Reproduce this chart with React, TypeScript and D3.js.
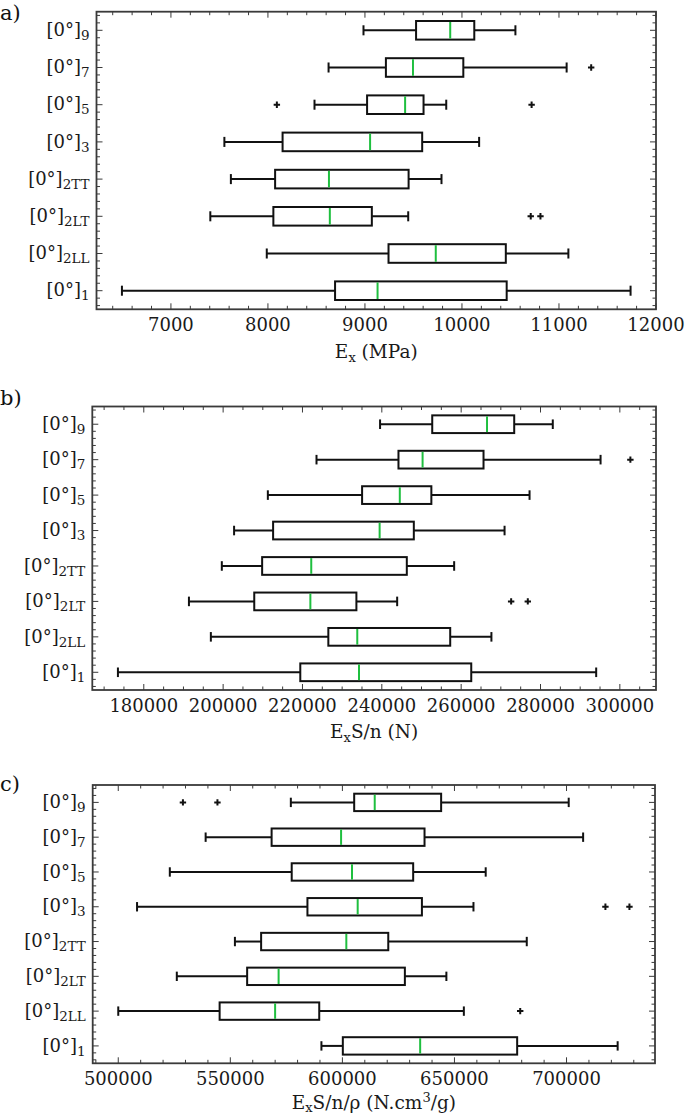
import React from "react";
import * as d3 from "d3";

// ---------- data ----------
// categories from bottom (position 1) to top (position 8)
const categorySubs = ["1", "2LL", "2LT", "2TT", "3", "5", "7", "9"];

// Panel a: Ex (MPa)
const aLow = [6495, 7988, 7406, 7618, 7551, 8480, 8625, 8985];
const aQ1 = [8692, 9243, 8056, 8074, 8151, 9022, 9216, 9527];
const aMed = [9130, 9730, 8638, 8629, 9053, 9414, 9495, 9879];
const aQ3 = [10461, 10452, 9071, 9450, 9590, 9604, 10014, 10127];
const aHigh = [11738, 11097, 9446, 9789, 10177, 9838, 11079, 10551];
const aOut = [[], [], [10709, 10809], [], [], [8092, 10718], [11332], []];
const aTicks = [7000, 8000, 9000, 10000, 11000, 12000];

// Panel b: ExS/n (N)
const bLow = [173481, 196906, 191381, 199669, 202762, 211271, 223536, 239558];
const bQ1 = [219448, 226519, 207845, 209834, 212597, 235028, 244199, 252707];
const bMed = [234254, 233812, 221989, 222210, 239448, 244530, 250276, 266519];
const bQ3 = [262541, 257238, 233591, 246298, 248066, 252486, 265635, 273370];
const bHigh = [294033, 267624, 243867, 258232, 270939, 277238, 295138, 283094];
const bOut = [[], [], [272597, 276796], [], [], [], [302652], []];
const bTicks = [180000, 200000, 220000, 240000, 260000, 280000, 300000];

// Panel c: ExS/n/rho (N.cm3/g)
const cLow = [590643, 500000, 526121, 552047, 508382, 523002, 538986, 577000];
const cQ1 = [600195, 545224, 557505, 563743, 584405, 577388, 568421, 605263];
const cMed = [634698, 569981, 571540, 601754, 606823, 604288, 599415, 614425];
const cQ3 = [677973, 589669, 627875, 620468, 635478, 631579, 636647, 644055];
const cHigh = [722807, 654191, 646394, 682261, 658480, 663938, 707407, 700975];
const cOut = [[], [679337], [], [], [717349, 728070], [], [], [528850, 544250]];
const cTicks = [500000, 550000, 600000, 650000, 700000];

// ---------- style ----------
const FONT = "'DejaVu Serif', serif";
const FRAME = "#3a3a3a";
const GREEN = "#1fbf3f";

type PanelProps = {
  label: string;
  labelY: number;
  left: number;
  right: number;
  top: number;
  bottom: number;
  lows: number[];
  q1s: number[];
  meds: number[];
  q3s: number[];
  highs: number[];
  outs: number[][];
  ticks: number[];
  minorStep: number;
  titleOffset: number;
  title: React.ReactNode;
};

function Panel(p: PanelProps) {
  const all = [...p.lows, ...p.highs, ...p.outs.flat()];
  const [mn, mx] = d3.extent(all) as [number, number];
  const pad = (mx - mn) * 0.05;
  const x = d3.scaleLinear().domain([mn - pad, mx + pad]).range([p.left, p.right]);
  const y = d3.scaleLinear().domain([0.5, 8.5]).range([p.bottom, p.top]);
  const [d0, d1] = x.domain();
  const minors = d3
    .range(Math.ceil(d0 / p.minorStep) * p.minorStep, d1, p.minorStep)
    .filter((v) => !p.ticks.some((t) => Math.abs(t - v) < 1e-6));
  const yMajor = d3.range(1, 9);
  const yMinor = d3.range(0.6, 8.45, 0.2).filter((v) => Math.abs(v - Math.round(v)) > 0.05);
  const MAJ = 6;
  const MIN = 3.5;
  const boxH = 0.25;
  const capH = 0.135;

  return (
    <g>
      <text x={0} y={p.labelY} fontFamily={FONT} fontSize={21} fill="#111">
        {p.label}
      </text>
      {/* boxes */}
      {categorySubs.map((_, i) => {
        const pos = i + 1;
        const yc = y(pos);
        const yt = y(pos + boxH);
        const yb = y(pos - boxH);
        const ct = y(pos + capH);
        const cb = y(pos - capH);
        return (
          <g key={i} stroke="#111" strokeWidth={2} fill="none">
            <line x1={x(p.lows[i])} x2={x(p.q1s[i])} y1={yc} y2={yc} />
            <line x1={x(p.q3s[i])} x2={x(p.highs[i])} y1={yc} y2={yc} />
            <line x1={x(p.lows[i])} x2={x(p.lows[i])} y1={ct} y2={cb} />
            <line x1={x(p.highs[i])} x2={x(p.highs[i])} y1={ct} y2={cb} />
            <rect x={x(p.q1s[i])} y={yt} width={x(p.q3s[i]) - x(p.q1s[i])} height={yb - yt} />
            <line x1={x(p.meds[i])} x2={x(p.meds[i])} y1={yt + 1} y2={yb - 1} stroke={GREEN} strokeWidth={2} />
            {p.outs[i].map((o, j) => (
              <path
                key={j}
                d={`M${x(o) - 3.2},${yc}H${x(o) + 3.2}M${x(o)},${yc - 3.2}V${yc + 3.2}`}
                strokeWidth={2}
              />
            ))}
          </g>
        );
      })}
      {/* frame */}
      <rect
        x={p.left}
        y={p.top}
        width={p.right - p.left}
        height={p.bottom - p.top}
        fill="none"
        stroke={FRAME}
        strokeWidth={1.8}
      />
      {/* ticks */}
      <g stroke={FRAME} strokeWidth={1}>
        {p.ticks.map((t) => (
          <g key={t}>
            <line x1={x(t)} x2={x(t)} y1={p.bottom} y2={p.bottom - MAJ} />
            <line x1={x(t)} x2={x(t)} y1={p.top} y2={p.top + MAJ} />
          </g>
        ))}
        {minors.map((t) => (
          <g key={t}>
            <line x1={x(t)} x2={x(t)} y1={p.bottom} y2={p.bottom - MIN} />
            <line x1={x(t)} x2={x(t)} y1={p.top} y2={p.top + MIN} />
          </g>
        ))}
        {yMajor.map((v) => (
          <g key={v}>
            <line x1={p.left} x2={p.left + MAJ} y1={y(v)} y2={y(v)} />
            <line x1={p.right} x2={p.right - MAJ} y1={y(v)} y2={y(v)} />
          </g>
        ))}
        {yMinor.map((v) => (
          <g key={v}>
            <line x1={p.left} x2={p.left + MIN} y1={y(v)} y2={y(v)} />
            <line x1={p.right} x2={p.right - MIN} y1={y(v)} y2={y(v)} />
          </g>
        ))}
      </g>
      {/* x tick labels */}
      {p.ticks.map((t) => (
        <text
          key={t}
          x={x(t)}
          y={p.bottom + 22}
          textAnchor="middle"
          fontFamily={FONT}
          fontSize={18}
          fill="#1a1a1a"
        >
          {t}
        </text>
      ))}
      {/* y tick labels */}
      {categorySubs.map((s, i) => (
        <text
          key={s}
          x={p.left - 7}
          y={y(i + 1) + 5.7}
          textAnchor="end"
          fontFamily={FONT}
          fontSize={18}
          fill="#1a1a1a"
        >
          [0°]
          <tspan dy={4} fontSize={13.5}>
            {s}
          </tspan>
        </text>
      ))}
      {/* x title */}
      <text
        x={(p.left + p.right) / 2}
        y={p.bottom + p.titleOffset}
        textAnchor="middle"
        fontFamily={FONT}
        fontSize={18.5}
        fill="#1a1a1a"
      >
        {p.title}
      </text>
    </g>
  );
}

export default function App() {
  return (
    <svg
      width={685}
      height={1117}
      style={{ position: "absolute", left: 0, top: 0, background: "#fff" }}
    >
      <rect width={685} height={1117} fill="#fff" />
      <Panel
        label="a)"
        labelY={20}
        left={96.5}
        right={656}
        top={11.7}
        bottom={309.3}
        lows={aLow}
        q1s={aQ1}
        meds={aMed}
        q3s={aQ3}
        highs={aHigh}
        outs={aOut}
        ticks={aTicks}
        minorStep={200}
        titleOffset={49}
        title={
          <>
            E<tspan dy={3.5} fontSize={13}>x</tspan>
            <tspan dy={-3.5}> (MPa)</tspan>
          </>
        }
      />
      <Panel
        label="b)"
        labelY={405}
        left={92.3}
        right={656}
        top={406.5}
        bottom={690}
        lows={bLow}
        q1s={bQ1}
        meds={bMed}
        q3s={bQ3}
        highs={bHigh}
        outs={bOut}
        ticks={bTicks}
        minorStep={5000}
        titleOffset={48}
        title={
          <>
            E<tspan dy={3.5} fontSize={13}>x</tspan>
            <tspan dy={-3.5}>S/n (N)</tspan>
          </>
        }
      />
      <Panel
        label="c)"
        labelY={791}
        left={92.7}
        right={655}
        top={785}
        bottom={1063.3}
        lows={cLow}
        q1s={cQ1}
        meds={cMed}
        q3s={cQ3}
        highs={cHigh}
        outs={cOut}
        ticks={cTicks}
        minorStep={10000}
        titleOffset={45.5}
        title={
          <>
            E<tspan dy={3} fontSize={13}>x</tspan>
            <tspan dy={-3}>S/n/ρ (N.cm</tspan>
            <tspan dy={-7} fontSize={13}>3</tspan>
            <tspan dy={7}>/g)</tspan>
          </>
        }
      />
    </svg>
  );
}
